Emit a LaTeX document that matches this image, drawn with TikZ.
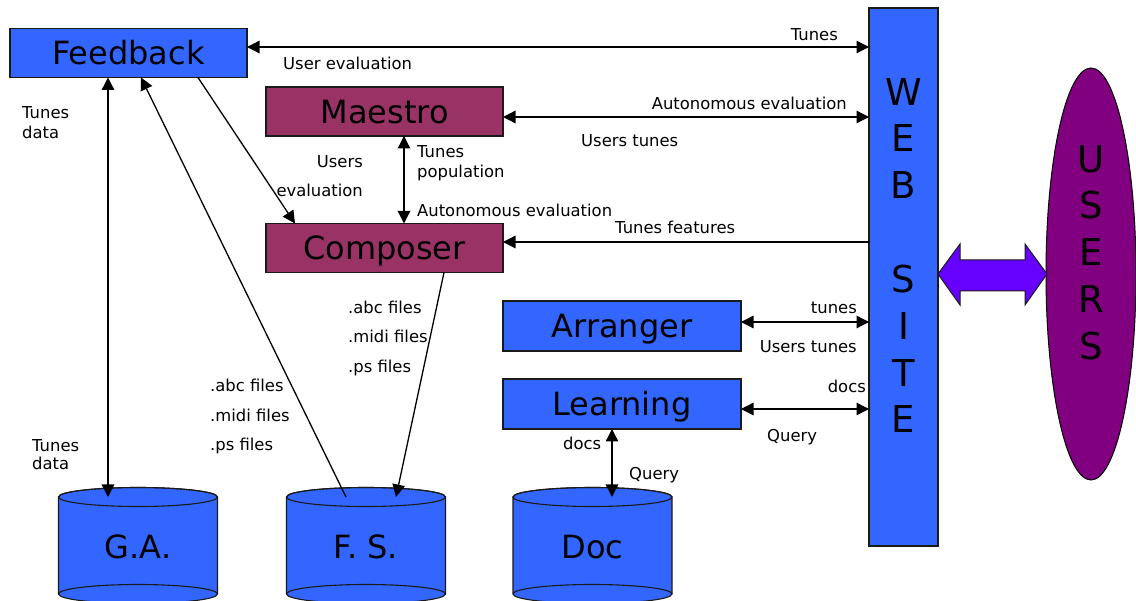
\documentclass[tikz,border=0pt]{standalone}
\usepackage{fontspec}
\setmainfont{DejaVu Sans}
\usetikzlibrary{arrows.meta,shapes.geometric}
\definecolor{boxblue}{HTML}{3366FF}
\definecolor{boxmaroon}{HTML}{993366}
\definecolor{userpurple}{HTML}{800080}
\definecolor{arrowviolet}{HTML}{6600FF}
\definecolor{edgegrey}{HTML}{1A1A1A}
\begin{document}
\begin{tikzpicture}[x=1pt,y=1pt,
  box/.style={draw=edgegrey,line width=1.2pt,inner sep=0pt,outer sep=0pt,
    minimum width=237pt,minimum height=49pt,
    font=\fontsize{32}{38}\selectfont,text height=23.3pt,text depth=0pt},
  bluebox/.style={box,fill=boxblue},
  maroonbox/.style={box,fill=boxmaroon},
  title/.style={inner sep=0pt,font=\fontsize{32}{38}\selectfont,text height=23.3pt,text depth=0pt},
  biglet/.style={inner sep=0pt,align=center,font=\fontsize{37}{46.85}\selectfont},
  lbl/.style={inner sep=0pt,font=\fontsize{16.4}{20}\selectfont},
  conn/.style={line width=1.3pt,draw=black},
  both/.style={conn,{Triangle[length=12.5pt,width=12.5pt]}-{Triangle[length=12.5pt,width=12.5pt]}},
  tohead/.style={conn,-{Triangle[length=12.5pt,width=12.5pt]}},
  cylface/.style={fill=boxblue,draw=edgegrey,line width=1.1pt},
  cylline/.style={draw=edgegrey,line width=1.1pt},
  dbcyl/.pic={
    \path[cylface] (-79.5,0) -- (-79.5,-97)
      arc[start angle=180,end angle=360,x radius=79.5pt,y radius=9.5pt]
      -- (79.5,0) arc[start angle=0,end angle=180,x radius=79.5pt,y radius=9.5pt] -- cycle;
    \draw[cylline] (0,0) ellipse[x radius=79.5pt,y radius=9.5pt];
    \draw[cylline] (79.5,-97) arc[start angle=0,end angle=180,x radius=79.5pt,y radius=9.5pt];
    \node[title] (-lbl) at (0,-50) {#1};
    \coordinate (-top) at (0,0);
  }
]
\useasboundingbox (0,0) rectangle (1136,-601);

% main boxes
\node[bluebox] (feedback) at (128.5,-53) {Feedback};
\node[maroonbox] (maestro) at (384.5,-111.5) {Maestro};
\node[maroonbox] (composer) at (384.5,-248) {Composer};
\node[bluebox,minimum width=238pt,minimum height=50pt] (arranger) at (622,-326) {Arranger};
\node[bluebox,minimum width=238pt,minimum height=50pt] (learning) at (622,-404) {Learning};

% web site
\node[draw=edgegrey,fill=boxblue,line width=1.2pt,inner sep=0pt,outer sep=0pt,
  minimum width=69pt,minimum height=538pt] (web) at (903.5,-277) {};
\node[biglet] (weblbl) at (903.5,-255.5) {W\\E\\B\\~\\S\\I\\T\\E};

% users
\node[ellipse,draw=black,fill=userpurple,line width=1pt,inner sep=0pt,outer sep=0pt,
  minimum width=90pt,minimum height=412pt] (users) at (1091,-274) {};
\node[biglet] (userslbl) at (1091,-252.5) {U\\S\\E\\R\\S};

% double arrow between web site and users
\path[fill=arrowviolet,draw=edgegrey,line width=1pt]
  (938,-274) -- (960,-244) -- (960,-260) -- (1025,-260) -- (1025,-244)
  -- (1047,-274) -- (1025,-305) -- (1025,-291) -- (960,-291) -- (960,-305) -- cycle;

% databases
\pic (ga) at (138,-497) {dbcyl={G.A.}};
\pic (fs) at (366,-497) {dbcyl={F. S.}};
\pic (doc) at (592.5,-497) {dbcyl={Doc}};

% horizontal connectors to the web site
\coordinate (fbR) at ([yshift=6pt]feedback.east);
\draw[both] (fbR) -- (fbR -| web.west);
\coordinate (maR) at ([yshift=-5.5pt]maestro.east);
\draw[both] (maR) -- (maR -| web.west);
\coordinate (coR) at ([yshift=6pt]composer.east);
\draw[tohead] (coR -| web.west) -- (coR);
\coordinate (arR) at ([yshift=4pt]arranger.east);
\draw[both] (arR) -- (arR -| web.west);
\coordinate (leR) at ([yshift=-5pt]learning.east);
\draw[both] (leR) -- (leR -| web.west);

% other connectors
\draw[both] ([xshift=19.5pt]maestro.south) -- ([xshift=19.5pt]composer.north);
\draw[tohead] ([xshift=69.5pt]feedback.south) -- ([xshift=-89.5pt]composer.north);
\draw[both] ([xshift=-20.5pt]feedback.south) -- ([xshift=-30pt]ga-top);
\draw[tohead] ([xshift=-20pt]fs-top) -- ([xshift=12.5pt]feedback.south);
\draw[tohead] ([xshift=59.5pt]composer.south) -- ([xshift=30pt]fs-top);
\draw[both] ([xshift=-10pt]learning.south) -- ([xshift=19.5pt]doc-top);

% labels
\node[lbl,anchor=base east] (l1) at (838,-41) {Tunes};
\node[lbl,anchor=base west] (l2) at (283,-70) {User evaluation};
\node[lbl,anchor=base east] (l3) at (847,-109.5) {Autonomous evaluation};
\node[lbl,anchor=base west] (l4) at (581,-146.5) {Users tunes};
\node[lbl,anchor=base west] (l5) at (417,-158) {Tunes};
\node[lbl,anchor=base west] (l6) at (417,-177.5) {population};
\node[lbl,anchor=base west] (l7) at (417,-216.5) {Autonomous evaluation};
\node[lbl,anchor=base east] (l8) at (363,-168) {Users};
\node[lbl,anchor=base east] (l9) at (363,-196.5) {evaluation};
\node[lbl,anchor=base west] (l10) at (615,-234) {Tunes features};
\node[lbl,anchor=base west] (l11) at (22,-119) {Tunes};
\node[lbl,anchor=base west] (l12) at (22,-138.5) {data};
\node[lbl,anchor=base west] (l13) at (32,-451.5) {Tunes};
\node[lbl,anchor=base west] (l14) at (32,-470) {data};
\node[lbl,anchor=base west] (l15) at (210,-392) {.abc files};
\node[lbl,anchor=base west] (l16) at (210,-422) {.midi files};
\node[lbl,anchor=base west] (l17) at (210,-451) {.ps files};
\node[lbl,anchor=base west] (l18) at (348,-314) {.abc files};
\node[lbl,anchor=base west] (l19) at (348,-343) {.midi files};
\node[lbl,anchor=base west] (l20) at (348,-372.5) {.ps files};
\node[lbl,anchor=base east] (l21) at (857,-314) {tunes};
\node[lbl,anchor=base east] (l22) at (857,-353) {Users tunes};
\node[lbl,anchor=base east] (l23) at (866,-392.5) {docs};
\node[lbl,anchor=base west] (l24) at (767,-442) {Query};
\node[lbl,anchor=base west] (l25) at (563,-449.5) {docs};
\node[lbl,anchor=base west] (l26) at (629,-480) {Query};
\end{tikzpicture}
\end{document}
